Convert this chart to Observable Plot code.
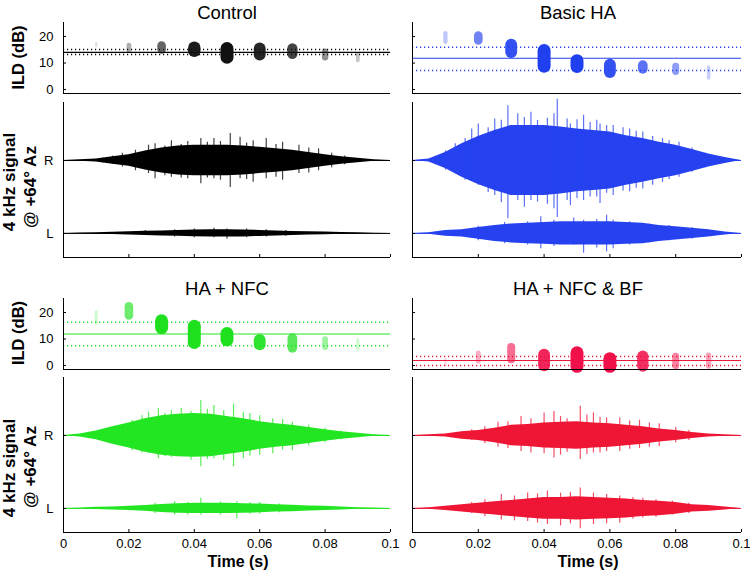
<!DOCTYPE html>
<html>
<head>
<meta charset="utf-8">
<script src="https://cdn.jsdelivr.net/npm/d3@7"></script>
<script src="https://cdn.jsdelivr.net/npm/@observablehq/plot@0.6"></script>
<style>
  html, body { margin: 0; padding: 0; background: #fff; }
  #root { position: relative; width: 750px; height: 574px; overflow: hidden; background: #fff;
          font-family: "Liberation Sans", Arial, Helvetica, sans-serif; }
  #root svg { position: absolute; }
</style>
</head>
<body>
<div id="root"></div>
<script>
// ---------------- data ----------------
const panelTitles = ["Control", "Basic HA", "HA + NFC", "HA + NFC & BF"];
const panelColors = ["#000000", "#2541f0", "#22e622", "#ef1635"];
const blobColors  = ["#111111", "#2040f0", "#1ee01e", "#f0104a"];
const ildTicks = [0, 10, 20];
const timeTicks = [0, 0.02, 0.04, 0.06, 0.08, 0.1];
const channelTicks = [0, 1];
const channelLabels = ["L", "R"];

// ILD clusters (dB) at each analysis time
const clusterTimes = [0.01, 0.02, 0.03, 0.04, 0.05, 0.06, 0.07, 0.08, 0.09];
const ildControlHigh   = [17.3, 16.6, 16.4, 15.6, 15.3, 15.3, 15.3, 14.1, 13.4];
const ildControlLow    = [16.2, 14.4, 14.9, 14.4, 12.0, 13.0, 13.3, 12.0, 10.8];
const ildControlWeight = [0.02, 0.25, 0.6, 0.95, 1, 0.9, 0.75, 0.4, 0.15];
const ildControlStats  = [14.0, 13.2, 15.1];   // mean, lower, upper

const ildBasicHigh   = [21.1, 20.2, 16.7, 14.5, 10.7, 9.2, 9.0, 8.6, 8.3];
const ildBasicLow    = [17.8, 18.3, 14.0, 8.6, 8.5, 6.4, 7.6, 6.6, 4.2];
const ildBasicWeight = [0.2, 0.6, 0.9, 1, 1, 0.9, 0.7, 0.45, 0.15];
const ildBasicStats  = [11.8, 7.2, 16.0];

const ildNfcHigh   = [20.2, 22.2, 16.7, 14.6, 11.9, 9.5, 10.1, 9.8, 9.5];
const ildNfcLow    = [15.7, 18.7, 14.1, 8.5, 9.5, 7.8, 6.5, 6.8, 6.0];
const ildNfcWeight = [0.1, 0.6, 1, 1, 1, 0.9, 0.7, 0.35, 0.1];
const ildNfcStats  = [11.9, 7.5, 16.3];

const ildBfHigh   = [2.1, 4.6, 6.8, 3.9, 4.6, 2.4, 3.3, 3.3, 3.7];
const ildBfLow    = [-0.1, 1.4, 2.2, -0.1, -0.5, -0.5, -0.4, -0.3, -0.4];
const ildBfWeight = [0.05, 0.25, 0.55, 0.9, 1, 1, 0.85, 0.45, 0.3];
const ildBfStats  = [1.9, 0.0, 3.4];

// Waveform envelopes (half amplitude, in units of the R–L spacing)
const envTimes = [0, 0.005, 0.01, 0.015, 0.02, 0.025, 0.03, 0.035, 0.04, 0.045, 0.05,
                  0.055, 0.06, 0.065, 0.07, 0.075, 0.08, 0.085, 0.09, 0.095, 0.1];
const envControlR = [0, .01, .02, .05, .08, .13, .17, .20, .21, .21, .21, .20, .18, .16, .14, .11, .08, .05, .03, .01, 0];
const envControlL = [0, .005, .01, .015, .023, .03, .035, .04, .046, .05, .05, .048, .041, .035, .027, .022, .018, .012, .009, .004, 0];
const envBasicR   = [0, .02, .11, .23, .33, .41, .48, .48, .48, .46, .43, .41, .39, .34, .30, .25, .21, .15, .09, .04, 0];
const envBasicL   = [0, .01, .04, .05, .08, .11, .13, .14, .15, .16, .16, .16, .16, .15, .14, .11, .09, .07, .05, .02, 0];
const envNfcR     = [0, .02, .06, .12, .17, .23, .27, .29, .30, .29, .26, .23, .19, .16, .14, .11, .08, .05, .03, .01, 0];
const envNfcL     = [0, .005, .015, .02, .03, .04, .055, .065, .07, .07, .07, .065, .06, .05, .045, .035, .03, .02, .01, .005, 0];
const envBfR      = [0, .01, .02, .05, .07, .10, .14, .15, .17, .18, .19, .17, .16, .14, .12, .09, .07, .04, .02, .01, 0];
const envBfL      = [0, .01, .03, .05, .07, .09, .11, .13, .15, .15, .16, .15, .14, .13, .11, .10, .08, .05, .04, .02, 0];

// Prominent peaks: [time, up, down]
const spikesControlR = [[0.012,0.03,0.03],[0.015,0.06,0.05],[0.018,0.10,0.09],[0.022,0.14,0.14],[0.026,0.21,0.18],[0.028,0.23,0.25],[0.031,0.20,0.21],[0.033,0.27,0.23],[0.036,0.22,0.24],[0.038,0.26,0.25],[0.042,0.30,0.32],[0.044,0.25,0.24],[0.046,0.30,0.25],[0.048,0.26,0.27],[0.051,0.37,0.37],[0.054,0.32,0.25],[0.056,0.24,0.26],[0.058,0.27,0.30],[0.062,0.30,0.25],[0.065,0.22,0.23],[0.067,0.25,0.27],[0.072,0.21,0.18],[0.075,0.17,0.17],[0.078,0.16,0.14],[0.082,0.10,0.10],[0.086,0.06,0.06]];
const spikesControlL = [[0.025,0.04,0.03],[0.034,0.05,0.05],[0.040,0.06,0.06],[0.046,0.07,0.06],[0.050,0.06,0.08],[0.056,0.06,0.06],[0.062,0.05,0.05],[0.068,0.04,0.04]];
const spikesBasicR = [[0.010,0.13,0.13],[0.013,0.23,0.18],[0.016,0.30,0.27],[0.018,0.43,0.27],[0.020,0.50,0.34],[0.023,0.45,0.44],[0.025,0.57,0.48],[0.027,0.55,0.58],[0.029,0.75,0.80],[0.032,0.64,0.55],[0.034,0.59,0.64],[0.036,0.66,0.55],[0.038,0.55,0.57],[0.041,0.58,0.60],[0.043,0.64,0.66],[0.044,0.84,0.78],[0.047,0.57,0.55],[0.048,0.50,0.62],[0.050,0.56,0.52],[0.052,0.62,0.55],[0.054,0.52,0.50],[0.056,0.55,0.50],[0.057,0.50,0.59],[0.059,0.48,0.45],[0.061,0.48,0.48],[0.064,0.45,0.42],[0.066,0.43,0.43],[0.068,0.40,0.38],[0.070,0.39,0.39],[0.073,0.33,0.34],[0.076,0.30,0.30],[0.078,0.27,0.26],[0.081,0.25,0.23],[0.085,0.17,0.16],[0.089,0.10,0.10]];
const spikesBasicL = [[0.020,0.10,0.10],[0.028,0.15,0.14],[0.035,0.16,0.16],[0.039,0.23,0.21],[0.043,0.18,0.18],[0.049,0.21,0.16],[0.052,0.18,0.27],[0.056,0.19,0.20],[0.059,0.25,0.25],[0.061,0.18,0.21],[0.066,0.16,0.16],[0.072,0.13,0.13],[0.078,0.11,0.10],[0.085,0.08,0.08]];
const spikesNfcR = [[0.015,0.08,0.08],[0.018,0.14,0.13],[0.021,0.21,0.21],[0.024,0.27,0.24],[0.026,0.32,0.25],[0.029,0.37,0.32],[0.031,0.30,0.29],[0.033,0.34,0.30],[0.036,0.37,0.27],[0.039,0.33,0.34],[0.042,0.48,0.43],[0.044,0.36,0.33],[0.046,0.41,0.32],[0.049,0.34,0.34],[0.052,0.43,0.43],[0.055,0.32,0.32],[0.057,0.30,0.28],[0.060,0.27,0.27],[0.064,0.23,0.25],[0.067,0.22,0.20],[0.070,0.18,0.21],[0.075,0.14,0.14],[0.080,0.10,0.10],[0.085,0.06,0.06]];
const spikesNfcL = [[0.028,0.07,0.07],[0.034,0.09,0.09],[0.038,0.08,0.09],[0.042,0.14,0.09],[0.048,0.09,0.09],[0.053,0.09,0.14],[0.057,0.08,0.08],[0.060,0.08,0.08],[0.066,0.06,0.06]];
const spikesBfR = [[0.018,0.08,0.07],[0.022,0.12,0.11],[0.026,0.18,0.16],[0.029,0.19,0.18],[0.033,0.26,0.22],[0.036,0.23,0.24],[0.040,0.31,0.25],[0.043,0.33,0.31],[0.045,0.26,0.27],[0.047,0.23,0.23],[0.051,0.40,0.33],[0.053,0.28,0.26],[0.055,0.31,0.24],[0.057,0.25,0.24],[0.059,0.24,0.22],[0.063,0.24,0.22],[0.066,0.20,0.19],[0.069,0.21,0.18],[0.072,0.17,0.16],[0.075,0.16,0.15],[0.080,0.11,0.10],[0.084,0.07,0.07]];
const spikesBfL = [[0.018,0.08,0.07],[0.022,0.12,0.11],[0.027,0.19,0.16],[0.031,0.17,0.17],[0.035,0.21,0.18],[0.038,0.20,0.20],[0.041,0.24,0.22],[0.045,0.21,0.24],[0.048,0.22,0.21],[0.051,0.28,0.28],[0.055,0.21,0.22],[0.059,0.19,0.21],[0.063,0.17,0.20],[0.067,0.15,0.15],[0.070,0.14,0.13],[0.074,0.12,0.12],[0.079,0.10,0.09],[0.084,0.07,0.07]];

// ---------------- assembly ----------------
const panels = [
  {ild: [ildControlHigh, ildControlLow, ildControlWeight, ildControlStats], env: {R: envControlR, L: envControlL}, spikes: {R: spikesControlR, L: spikesControlL}},
  {ild: [ildBasicHigh, ildBasicLow, ildBasicWeight, ildBasicStats],         env: {R: envBasicR, L: envBasicL},     spikes: {R: spikesBasicR, L: spikesBasicL}},
  {ild: [ildNfcHigh, ildNfcLow, ildNfcWeight, ildNfcStats],                 env: {R: envNfcR, L: envNfcL},         spikes: {R: spikesNfcR, L: spikesNfcL}},
  {ild: [ildBfHigh, ildBfLow, ildBfWeight, ildBfStats],                     env: {R: envBfR, L: envBfL},           spikes: {R: spikesBfR, L: spikesBfL}}
].map((p, i) => ({...p, title: panelTitles[i], color: panelColors[i], blob: blobColors[i], col: i % 2, row: Math.floor(i / 2)}));

// layout (pixels)
const cols = [{left: 63, width: 327, center: 227, timeCenter: 238}, {left: 412, width: 329, center: 578, timeCenter: 588}];
const rows = [{ildTop: 22, waveTop: 102, titleY: 18.5, ildLabelY: 57.5, sig1Y: 182, sig2Y: 187},
              {ildTop: 298, waveTop: 377, titleY: 295, ildLabelY: 333, sig1Y: 468, sig2Y: 467}];
const ildH = 71, waveH = 155;
const ildDomain = [-1.5, 25.3];
const waveDomain = [-0.33, 1.795];
const FONT = '"Liberation Sans", Arial, Helvetica, sans-serif';
const root = document.getElementById("root");

function place(svg, left, top) {
  svg.style.position = "absolute";
  svg.style.left = left + "px";
  svg.style.top = top + "px";
  root.appendChild(svg);
}
const baseStyle = {background: "none", overflow: "visible", fontFamily: FONT, fontSize: "13px", color: "#000"};

function ildPlot(p) {
  const c = cols[p.col], r = rows[p.row];
  const ml = 45, mr = 8, mt = 8, mb = 8;
  const [high, low, weight, stats] = p.ild;
  const data = clusterTimes.map((t, i) => ({t, hi: high[i], lo: low[i], w: weight[i]}));
  const svg = Plot.plot({
    width: c.width + ml + mr, height: ildH + mt + mb,
    marginLeft: ml, marginRight: mr, marginTop: mt, marginBottom: mb,
    x: {domain: [0, 0.1], label: null, axis: null},
    y: {domain: ildDomain, label: null},
    opacity: {type: "identity"},
    style: baseStyle,
    marks: [
      Plot.ruleY([stats[1], stats[2]], {stroke: p.color, strokeWidth: 1.5, strokeDasharray: "1.2,2.8"}),
      Plot.ruleY([stats[0]], {stroke: p.color, strokeWidth: 1.2}),
      Plot.ruleX(data, {x: "t", y1: "lo", y2: "hi", stroke: p.blob,
        strokeWidth: d => 2 + 11 * d.w, strokeOpacity: d => 0.12 + 0.88 * d.w, strokeLinecap: "round"}),
      Plot.ruleX([0], {stroke: "#000", strokeWidth: 1}),
      Plot.ruleY([ildDomain[0]], {stroke: "#000", strokeWidth: 1}),
      Plot.axisY(ildTicks, {tickSize: -3, tickPadding: 13, label: null,
        tickFormat: p.col === 0 ? d => String(d) : () => ""})
    ]
  });
  place(svg, c.left - ml, r.ildTop - mt);
}

function wavePlot(p) {
  const c = cols[p.col], r = rows[p.row];
  const ml = 45, mr = 8, mt = 8, mb = p.row === 1 ? 30 : 8;
  const marks = [Plot.ruleY(channelTicks, {stroke: p.color, strokeWidth: 1})];
  channelTicks.forEach(b => {
    const ch = channelLabels[b];
    const env = envTimes.map((t, i) => ({t, a: p.env[ch][i]}));
    const sp = p.spikes[ch].map(([t, up, down]) => ({t, up, down}));
    marks.push(Plot.areaY(env, {x: "t", y1: d => b - d.a, y2: d => b + d.a, fill: p.color}));
    marks.push(Plot.ruleX(sp, {x: "t", y1: d => b - d.down, y2: d => b + d.up, stroke: p.color, strokeWidth: 1.2, strokeOpacity: 0.75}));
  });
  marks.push(
    Plot.ruleX([0], {stroke: "#000", strokeWidth: 1}),
    Plot.ruleY([waveDomain[0]], {stroke: "#000", strokeWidth: 1}),
    Plot.axisY(channelTicks, {tickSize: -3, tickPadding: 13, label: null,
      tickFormat: p.col === 0 ? d => channelLabels[d] : () => ""}),
    Plot.axisX(timeTicks, {tickSize: -3, tickPadding: 9, label: null,
      tickFormat: p.row === 1 ? d => String(d) : () => ""})
  );
  const svg = Plot.plot({
    width: c.width + ml + mr, height: waveH + mt + mb,
    marginLeft: ml, marginRight: mr, marginTop: mt, marginBottom: mb,
    x: {domain: [0, 0.1], label: null},
    y: {domain: waveDomain, label: null},
    opacity: {type: "identity"},
    style: baseStyle,
    marks
  });
  place(svg, c.left - ml, r.waveTop - mt);
}

panels.forEach(p => { ildPlot(p); wavePlot(p); });

// ---------------- text overlay ----------------
const ov = d3.select(root).append("svg")
  .attr("width", 750).attr("height", 574)
  .style("left", "0px").style("top", "0px").style("pointer-events", "none")
  .style("font-family", FONT);

panels.forEach(p => {
  const c = cols[p.col], r = rows[p.row];
  ov.append("text").attr("x", c.center).attr("y", r.titleY)
    .attr("text-anchor", "middle").attr("font-size", 18.5).text(p.title);
  if (p.row === 1) {
    ov.append("text").attr("x", c.timeCenter).attr("y", 567)
      .attr("text-anchor", "middle").attr("font-size", 16).attr("font-weight", "bold").text("Time (s)");
  }
});
rows.forEach(r => {
  ov.append("text").attr("transform", `translate(24,${r.ildLabelY}) rotate(-90)`)
    .attr("text-anchor", "middle").attr("font-size", 16.5).attr("font-weight", "bold").text("ILD (dB)");
  ov.append("text").attr("transform", `translate(15,${r.sig1Y}) rotate(-90)`)
    .attr("text-anchor", "middle").attr("font-size", 17).attr("font-weight", "bold").text("4 kHz signal");
  ov.append("text").attr("transform", `translate(36,${r.sig2Y}) rotate(-90)`)
    .attr("text-anchor", "middle").attr("font-size", 17).attr("font-weight", "bold").text("@ +64° Az");
});
</script>
</body>
</html>
